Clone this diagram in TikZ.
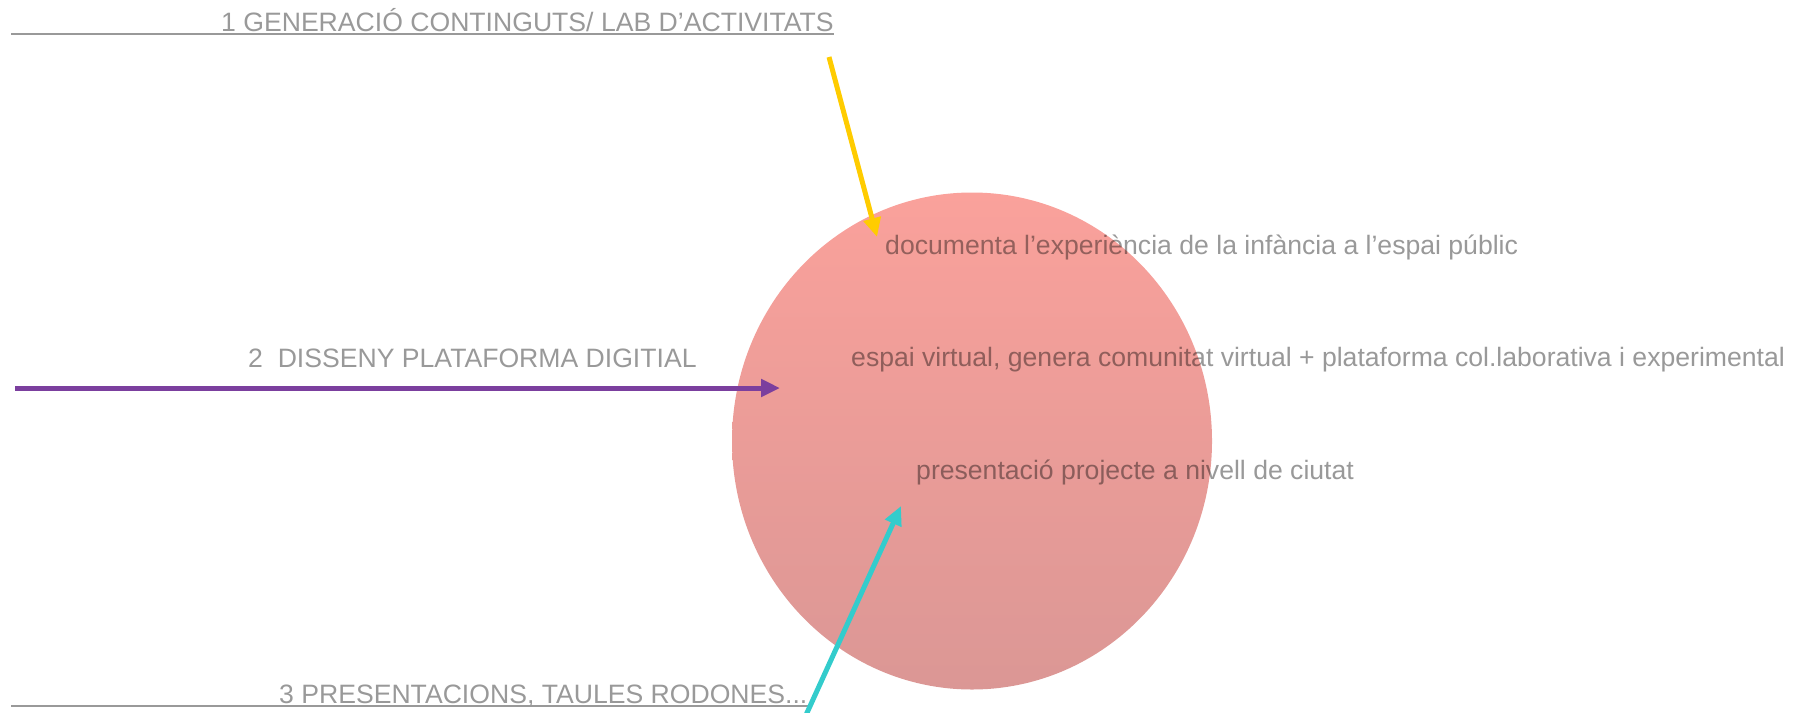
\documentclass[tikz,border=0pt]{standalone}
\usepackage{fontspec}
\setmainfont{Liberation Sans}
\usetikzlibrary{arrows.meta,positioning,shapes.geometric}
\usepackage{xcolor}
\definecolor{grisText}{HTML}{999999}
\definecolor{groc}{HTML}{FFCC00}
\definecolor{lila}{HTML}{7B3F9E}
\definecolor{turquesa}{HTML}{33CCCC}
\definecolor{rosaDalt}{HTML}{FAA19B}
\definecolor{rosaBaix}{HTML}{DB9795}

\begin{document}
\begin{tikzpicture}[
    x=1pt, y=-1pt,
    etiqueta/.style={anchor=base west, inner sep=0pt, text=grisText, font=\fontsize{26.6}{30}\selectfont},
    linia/.style={draw=grisText, line width=2pt},
    arrow/.style={-{Triangle[length=19pt,width=17pt]}, line width=5pt}
]
    \useasboundingbox (0,0) rectangle (1803,712);

    % etiquetes de les tres fases
    \node[etiqueta] (fase1) at (221,31) {1 GENERACIÓ CONTINGUTS/ LAB D’ACTIVITATS};
    \node[etiqueta] (fase2) at (248,367) {2\ \ DISSENY PLATAFORMA DIGITIAL};
    \node[etiqueta] (fase3) at (279,703) {3 PRESENTACIONS, TAULES RODONES...};

    % textes del cercle
    \node[etiqueta] (documenta) at (885,254) {documenta l’experiència de la infància a l’espai públic};
    \node[etiqueta] (espai) at (851,366) {espai virtual, genera comunitat virtual + plataforma col.laborativa i experimental};
    \node[etiqueta] (presentacio) at (916,479) {presentació projecte a nivell de ciutat};

    \coordinate (inici1) at (11,34);
    \coordinate (inici3) at (11,706);
    \draw[linia] (inici1) -- (inici1 -| fase1.east);
    \draw[linia] (inici3) -- (inici3 -| fase3.east);

    \begin{scope}[blend mode=multiply]
        \node[ellipse, minimum width=480pt, minimum height=497pt, inner sep=0pt,
              top color=rosaDalt, bottom color=rosaBaix] (cercle) at (972,441) {};
    \end{scope}

    \coordinate (groc0) at (829,57);
    \coordinate (groc1) at (877,237);
    \coordinate (lila0) at (15,388);
    \coordinate (lila1) at (780,388);
    \coordinate (turq0) at (806,715);
    \coordinate (turq1) at (901,506);

    \draw[arrow, draw=groc, fill=groc] (groc0) -- (groc1);
    \draw[arrow, draw=lila, fill=lila] (lila0) -- (lila1);
    \draw[arrow, draw=turquesa, fill=turquesa] (turq0) -- (turq1);
\end{tikzpicture}
\end{document}
